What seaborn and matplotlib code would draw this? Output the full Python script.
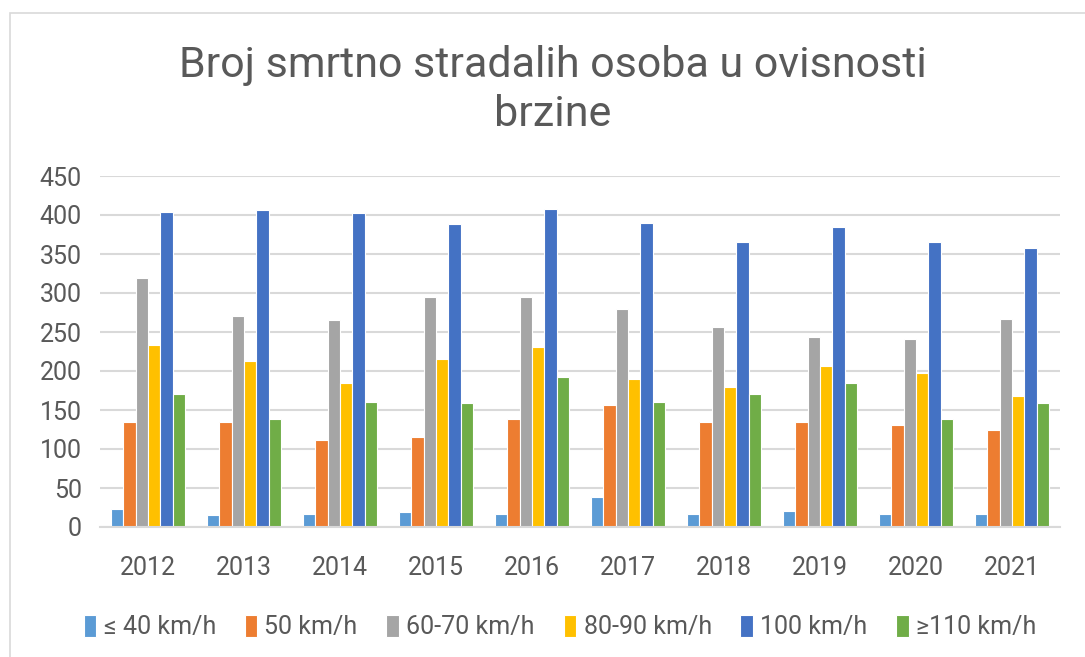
import matplotlib
matplotlib.use("Agg")
import matplotlib.pyplot as plt
from matplotlib.patches import Rectangle
import seaborn as sns
import pandas as pd

years = ["2012", "2013", "2014", "2015", "2016", "2017", "2018", "2019", "2020", "2021"]
categories = ["≤ 40 km/h", "50 km/h", "60-70 km/h", "80-90 km/h", "100 km/h", "≥110 km/h"]
v_le40 = [23, 15, 17, 19, 17, 38, 17, 21, 17, 17]
v_50 = [134, 134, 112, 116, 138, 157, 134, 134, 131, 125]
v_6070 = [319, 270, 265, 295, 295, 280, 257, 244, 241, 267]
v_8090 = [233, 213, 185, 216, 231, 190, 179, 207, 198, 168]
v_100 = [404, 406, 402, 388, 408, 390, 365, 384, 365, 358]
v_ge110 = [171, 138, 160, 159, 192, 160, 171, 185, 138, 159]
colors = ["#5B9BD5", "#ED7D31", "#A5A5A5", "#FFC000", "#4472C4", "#70AD47"]

series = [v_le40, v_50, v_6070, v_8090, v_100, v_ge110]
rows = []
for cat, vals in zip(categories, series):
    for y, v in zip(years, vals):
        rows.append({"Godina": y, "Brzina": cat, "Broj": v})
df = pd.DataFrame(rows)

sns.set_theme(style="white")
plt.rcParams["font.family"] = ["Roboto", "DejaVu Sans"]
txt = "#595959"

fig = plt.figure(figsize=(10.85, 6.57), dpi=100)
ax = fig.add_axes([100 / 1085, 1 - 527 / 657, 960 / 1085, 351 / 657])

sns.barplot(data=df, x="Godina", y="Broj", hue="Brzina", order=years,
            hue_order=categories, palette=colors, width=0.77, saturation=1,
            edgecolor="white", linewidth=0.8, ax=ax, legend=True)

ax.set_ylim(0, 450)
ax.set_xlim(-0.5, 9.5)
ax.set_yticks(range(0, 451, 50))
ax.yaxis.grid(True, color="#D9D9D9", linewidth=1.5)
ax.set_axisbelow(True)
for s in ["left", "right", "top"]:
    ax.spines[s].set_visible(False)
ax.spines["bottom"].set_color("#D9D9D9")
ax.spines["bottom"].set_linewidth(1.5)
ax.set_xlabel("")
ax.set_ylabel("")
ax.tick_params(axis="y", length=0, pad=13, labelsize=18, labelcolor=txt)
ax.tick_params(axis="x", length=0, pad=21, labelsize=18, labelcolor=txt)

handles, labels = ax.get_legend_handles_labels()
ax.legend(handles, labels, loc="center", bbox_to_anchor=(560 / 1085, 1 - 627 / 657),
          bbox_transform=fig.transFigure, ncol=6, frameon=False, fontsize=18,
          labelcolor=txt, handlelength=0.5, handleheight=1.0, handletextpad=0.3,
          columnspacing=1.15)

fig.text(553 / 1085, 1 - 65 / 657, "Broj smrtno stradalih osoba u ovisnosti",
         ha="center", va="center", fontsize=31, color=txt)
fig.text(553 / 1085, 1 - 115 / 657, "brzine",
         ha="center", va="center", fontsize=31, color=txt)

fig.patches.append(Rectangle((10 / 1085, -0.1), 1.2, 0.1 + 1 - 13 / 657,
                             transform=fig.transFigure, fill=False,
                             edgecolor="#D9D9D9", linewidth=1.2))

fig.savefig("out.png", dpi=100)
